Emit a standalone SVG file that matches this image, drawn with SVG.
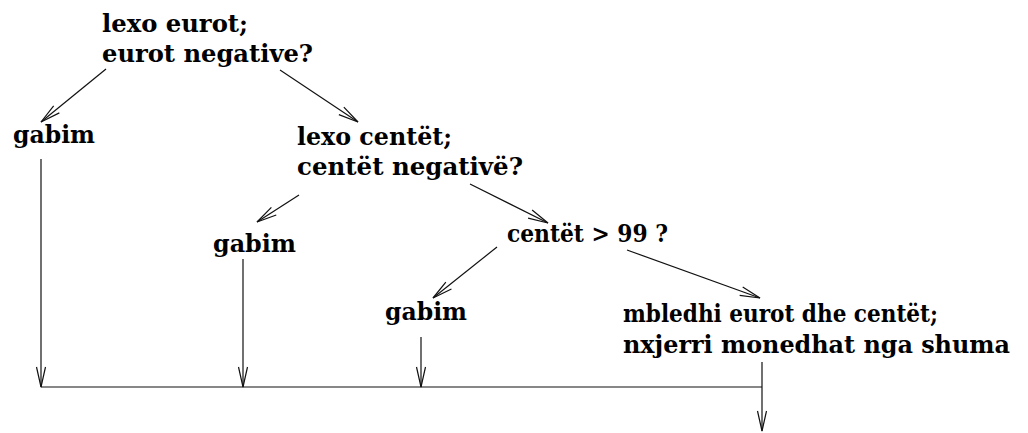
<svg xmlns="http://www.w3.org/2000/svg" width="1028" height="433" viewBox="0 0 1028 433">
<style>
text{font-family:"DejaVu Serif","Liberation Serif",serif;font-weight:bold;font-size:24px;fill:#000}
.c line{stroke:#111;stroke-width:1.2;fill:none}
.arr{marker-end:url(#a)}
</style>
<defs>
<marker id="a" viewBox="-21 -6 22 12" refX="0" refY="0" markerWidth="22" markerHeight="12" markerUnits="userSpaceOnUse" orient="auto" overflow="visible">
<path d="M-20,-4.5 L0,0 L-20,4.5" fill="none" stroke="#111" stroke-width="1.2"/>
</marker>
</defs>
<rect width="1028" height="433" fill="#fff"/>
<g id="n1"><text x="102" y="32" textLength="146" lengthAdjust="spacingAndGlyphs">lexo eurot;</text><text x="102" y="62" textLength="211" lengthAdjust="spacingAndGlyphs">eurot negative?</text></g>
<g id="n2"><text x="13" y="143" textLength="82" lengthAdjust="spacingAndGlyphs">gabim</text></g>
<g id="n3"><text x="297" y="145" textLength="155" lengthAdjust="spacingAndGlyphs">lexo centët;</text><text x="297" y="175" textLength="226" lengthAdjust="spacingAndGlyphs">centët negativë?</text></g>
<g id="n4"><text x="213" y="252" textLength="83" lengthAdjust="spacingAndGlyphs">gabim</text></g>
<g id="n5"><text x="507" y="242" textLength="161" lengthAdjust="spacingAndGlyphs">centët &gt; 99 ?</text></g>
<g id="n6"><text x="385" y="320" textLength="82" lengthAdjust="spacingAndGlyphs">gabim</text></g>
<g id="n7"><text x="623" y="322" textLength="315" lengthAdjust="spacingAndGlyphs">mbledhi eurot dhe centët;</text><text x="623" y="353" textLength="387" lengthAdjust="spacingAndGlyphs">nxjerri monedhat nga shuma</text></g>
<g id="connectors" class="c">
<line class="arr" x1="106" y1="69" x2="41" y2="122"/>
<line class="arr" x1="280" y1="70" x2="358" y2="122"/>
<line class="arr" x1="299" y1="195" x2="257" y2="222"/>
<line class="arr" x1="470" y1="184" x2="548" y2="223"/>
<line class="arr" x1="497" y1="247" x2="433" y2="298"/>
<line class="arr" x1="627" y1="250" x2="760" y2="298"/>
<line class="arr" x1="41" y1="159" x2="41" y2="387"/>
<line class="arr" x1="243" y1="259" x2="243" y2="387"/>
<line class="arr" x1="421" y1="337" x2="421" y2="387"/>
<line x1="41" y1="387" x2="762" y2="387"/>
<line class="arr" x1="762" y1="362" x2="762" y2="431"/>
</g>
</svg>
